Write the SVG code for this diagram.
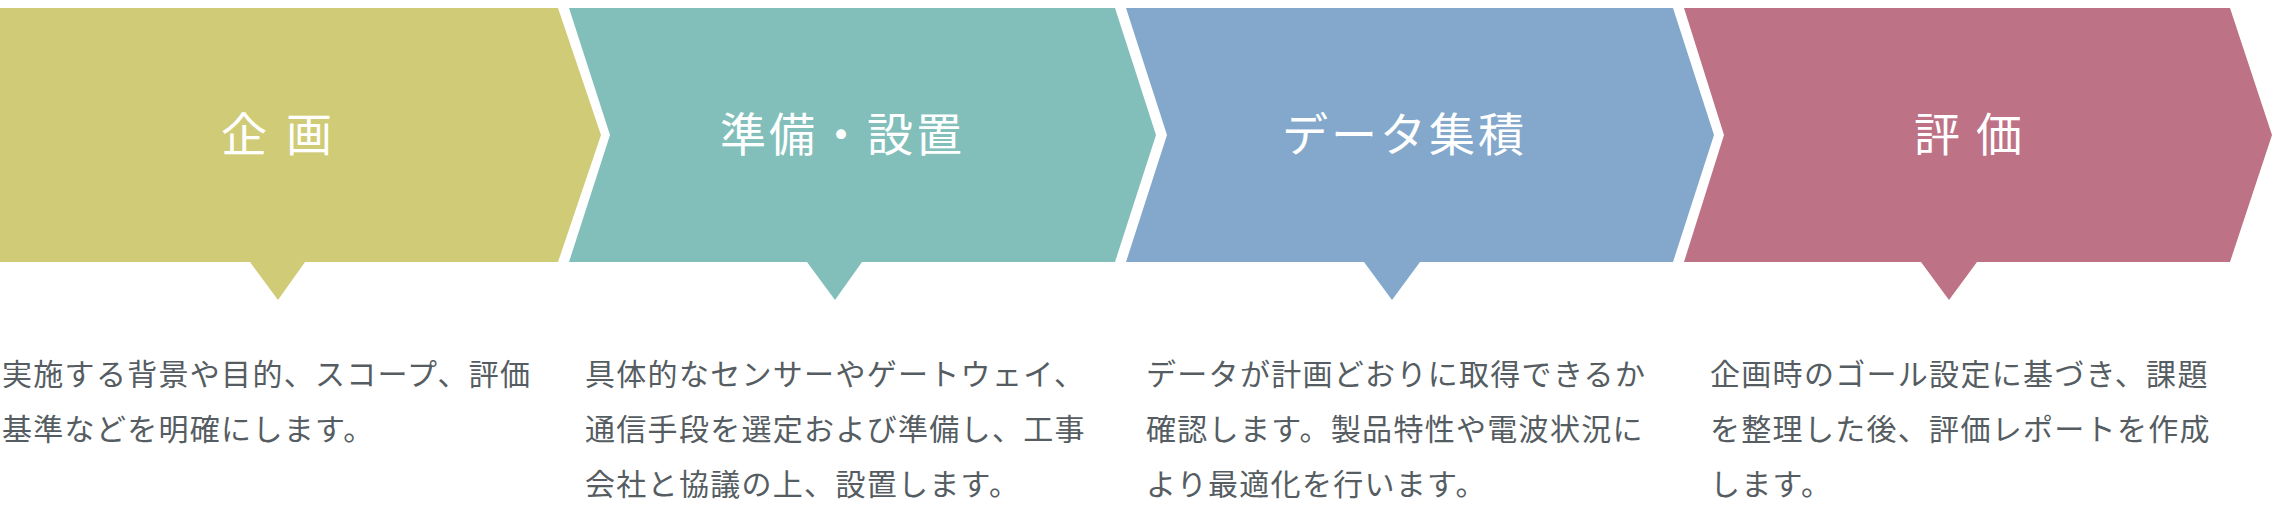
<svg xmlns="http://www.w3.org/2000/svg" width="2280" height="516" viewBox="0 0 2280 516">
<style>
.title{font-family:"Noto Sans CJK JP","Noto Sans",sans-serif;font-size:46px;fill:#ffffff;letter-spacing:3px}
.body{font-family:"Noto Sans CJK JP","Noto Sans",sans-serif;font-size:30px;fill:#555d62;letter-spacing:1.3px}
</style>
<rect width="2280" height="516" fill="#ffffff"/>
<g id="connectors"></g>
<g id="step1">
<polygon points="0,8 558,8 601,135 558,262 305,262 278,300 250,262 0,262" fill="#d0cb76"/>
<text class="title" x="221" y="151" style="letter-spacing:19px">企画</text>
<text class="body" x="2" y="385">実施する背景や目的、スコープ、評価</text>
<text class="body" x="2" y="440">基準などを明確にします。</text>
</g>
<g id="step2">
<polygon points="569,8 1115,8 1156,135 1115,262 862,262 835,300 807,262 569,262 610,135" fill="#83bfba"/>
<text class="title" x="720" y="151">準備・設置</text>
<text class="body" x="585" y="385">具体的なセンサーやゲートウェイ、</text>
<text class="body" x="585" y="440">通信手段を選定および準備し、工事</text>
<text class="body" x="585" y="495">会社と協議の上、設置します。</text>
</g>
<g id="step3">
<polygon points="1126,8 1673,8 1714,135 1673,262 1420,262 1392,300 1364,262 1126,262 1167,135" fill="#83a8cb"/>
<text class="title" x="1282" y="151">データ集積</text>
<text class="body" x="1146" y="385">データが計画どおりに取得できるか</text>
<text class="body" x="1146" y="440">確認します。製品特性や電波状況に</text>
<text class="body" x="1146" y="495">より最適化を行います。</text>
</g>
<g id="step4">
<polygon points="1684,8 2230,8 2272,135 2230,262 1977,262 1949,300 1921,262 1684,262 1724,135" fill="#be7285"/>
<text class="title" x="1914" y="151" style="letter-spacing:16px">評価</text>
<text class="body" x="1710" y="385">企画時のゴール設定に基づき、課題</text>
<text class="body" x="1710" y="440">を整理した後、評価レポートを作成</text>
<text class="body" x="1710" y="495">します。</text>
</g>
</svg>
